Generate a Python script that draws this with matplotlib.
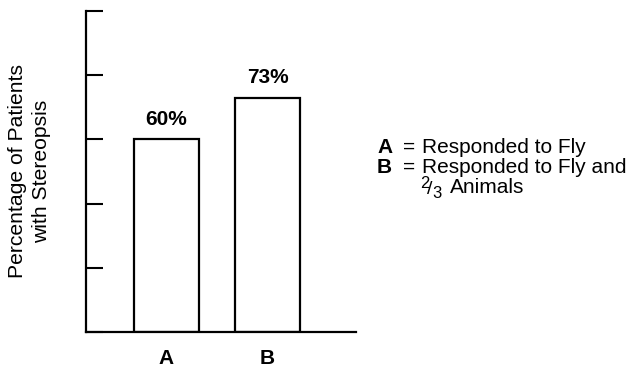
import matplotlib
matplotlib.use("Agg")
import matplotlib.pyplot as plt

categories = ["A", "B"]
percent = [60, 73]
bar_labels = ["60%", "73%"]
yticks = [0, 20, 40, 60, 80, 100]

plt.rcParams['font.family'] = ['Liberation Sans', 'DejaVu Sans']

fig = plt.figure(figsize=(6.36, 3.69), dpi=100)
ax = fig.add_axes([0.1352, 0.1003, 0.4245, 0.8697])

x = list(range(len(categories)))
ax.bar(x, percent, width=0.64, facecolor='white', edgecolor='black', linewidth=1.6)
for xi, v, lab in zip(x, percent, bar_labels):
    ax.annotate(lab, (xi, v), xytext=(0, 10.5), textcoords='offset points',
                ha='center', va='baseline', fontsize=15, fontweight='bold')

ax.set_xlim(-0.797, 1.876)
ax.set_ylim(0, 100)
ax.set_xticks(x)
ax.set_xticklabels(categories, fontsize=15, fontweight='bold')
ax.tick_params(axis='x', length=0, pad=12)
ax.set_yticks(yticks)
ax.set_yticklabels([])
ax.tick_params(axis='y', direction='in', length=12, width=1.5)

for s in ['top', 'right']:
    ax.spines[s].set_visible(False)
for s in ['left', 'bottom']:
    ax.spines[s].set_linewidth(1.6)

fig.text(0.0465, 1 - 171 / 369, "Percentage of Patients\nwith Stereopsis", fontsize=15.2,
         rotation=90, ha='center', va='center', multialignment='center',
         linespacing=1.35)

# key
W, H = 636.0, 369.0
fig.text(377 / W, 1 - 153 / H, "A", fontsize=15, fontweight='bold', va='baseline')
fig.text(403 / W, 1 - 153 / H, "=", fontsize=15, va='baseline')
fig.text(422 / W, 1 - 153 / H, "Responded to Fly", fontsize=15, va='baseline')
fig.text(377 / W, 1 - 173 / H, "B", fontsize=15, fontweight='bold', va='baseline')
fig.text(403 / W, 1 - 173 / H, "=", fontsize=15, va='baseline')
fig.text(422 / W, 1 - 173 / H, "Responded to Fly and", fontsize=15, va='baseline')
fig.text(420 / W, 1 - 188 / H, "2", fontsize=12, va='baseline')
fig.text(427 / W, 1 - 194 / H, "/", fontsize=14, va='baseline')
fig.text(432 / W, 1 - 198 / H, "3", fontsize=12, va='baseline')
fig.text(450 / W, 1 - 193 / H, "Animals", fontsize=15, va='baseline')

fig.savefig("out.png", dpi=100)
